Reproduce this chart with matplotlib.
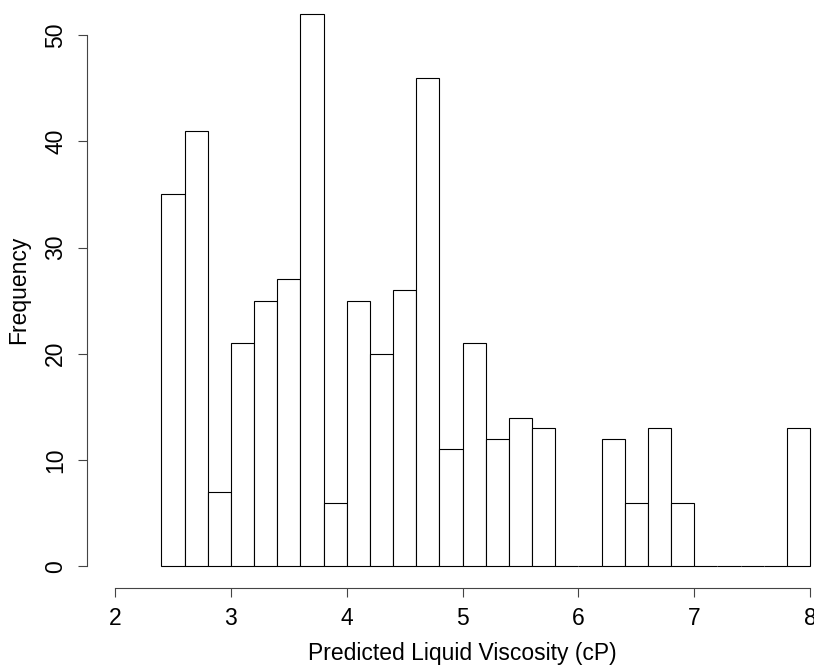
import numpy as np
import matplotlib
matplotlib.use('Agg')
import matplotlib.pyplot as plt

plt.rcParams['font.family'] = ['Liberation Sans', 'DejaVu Sans']

# histogram of predicted viscosity, bins of 0.2 cP starting at 2.4
bin_start = 2.4
bin_width = 0.2
counts = [35, 41, 7, 21, 25, 27, 52, 6, 25, 20, 26, 46, 11, 21,
          12, 14, 13, 0, 0, 12, 6, 13, 6, 0, 0, 0, 0, 13]
x_ticks = [2, 3, 4, 5, 6, 7, 8]
y_ticks = [0, 10, 20, 30, 40, 50]

lefts = bin_start + bin_width * np.arange(len(counts))

W, H = 814, 667
fig = plt.figure(figsize=(W / 100, H / 100), dpi=100)
# place axes so x=2..8 and y=0..50 land where they do in the R plot
ax = fig.add_axes([115 / W, (H - 566.3) / H, (810 - 115) / W, (566.3 - 35) / H])

ax.bar(lefts, counts, width=bin_width, align='edge', color='white',
       edgecolor='black', linewidth=0.8, clip_on=False)

ax.set_xlim(2, 8)
ax.set_ylim(0, 50)

axis_col = '#444444'
for s in ['top', 'right']:
    ax.spines[s].set_visible(False)
ax.spines['left'].set_position(('outward', 20))
ax.spines['bottom'].set_position(('outward', 15.6))
ax.spines['left'].set_bounds(0, 50)
ax.spines['bottom'].set_bounds(2, 8)
for s in ['left', 'bottom']:
    ax.spines[s].set_color(axis_col)
    ax.spines[s].set_linewidth(0.8)

ax.set_xticks(x_ticks)
ax.set_yticks(y_ticks)
ax.tick_params(axis='both', length=6.5, width=0.8, color=axis_col,
               labelsize=16.5, labelcolor='black')
ax.tick_params(axis='x', pad=7)
ax.tick_params(axis='y', pad=8)
for lab in ax.get_yticklabels():
    lab.set_rotation(90)
    lab.set_va('center')

ax.set_xlabel('Predicted Liquid Viscosity (cP)', fontsize=16.5, labelpad=9)
ax.set_ylabel('Frequency', fontsize=16.5, labelpad=10)
# R centres ylab on the padded plot region (0..52), not on 0..50
ax.yaxis.label.set_y(26 / 50)

fig.savefig('out.png', dpi=100, facecolor='white')
